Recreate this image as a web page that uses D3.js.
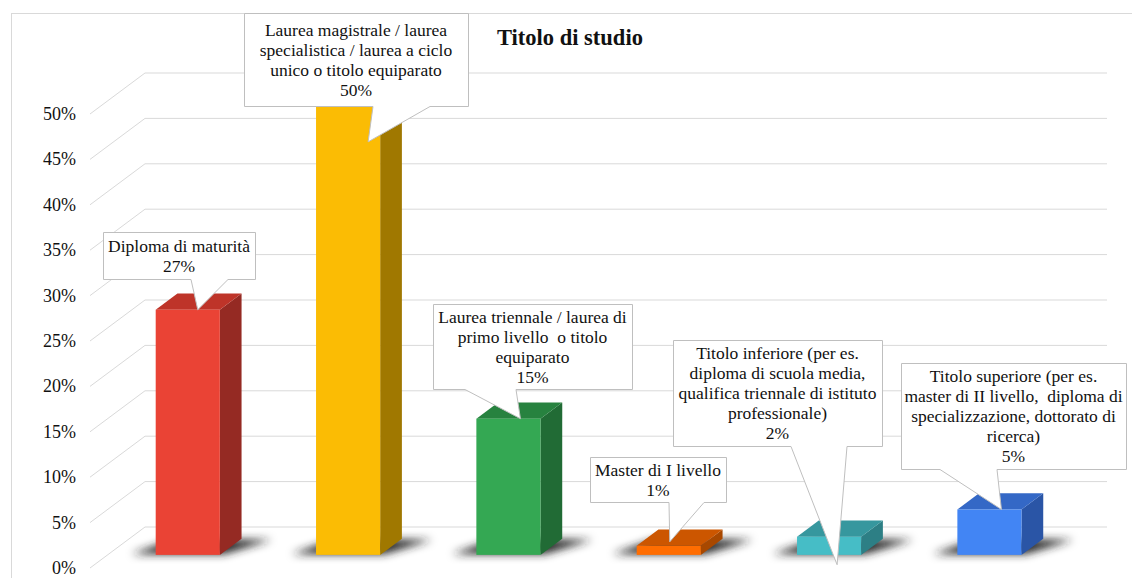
<!DOCTYPE html>
<html>
<head>
<meta charset="utf-8">
<script src="https://cdn.jsdelivr.net/npm/d3@7"></script>
<style>
  html, body { margin: 0; padding: 0; background: #fff; }
  svg { display: block; }
  text { font-family: "Liberation Serif", "Times New Roman", serif; fill: #111; white-space: pre; }
</style>
</head>
<body>
<svg id="chart" width="1132" height="578"></svg>
<script>
// ---- data ----
const categories = [
  "Diploma di maturità",
  "Laurea magistrale / laurea specialistica / laurea a ciclo unico o titolo equiparato",
  "Laurea triennale / laurea di primo livello  o titolo equiparato",
  "Master di I livello",
  "Titolo inferiore (per es. diploma di scuola media, qualifica triennale di istituto professionale)",
  "Titolo superiore (per es. master di II livello,  diploma di specializzazione, dottorato di ricerca)"
];
const values = [0.27, 0.50, 0.15, 0.01, 0.02, 0.05];
const labelLines = [
  ["Diploma di maturità"],
  ["Laurea magistrale / laurea", "specialistica / laurea a ciclo", "unico o titolo equiparato"],
  ["Laurea triennale / laurea di", "primo livello  o titolo", "equiparato"],
  ["Master di I livello"],
  ["Titolo inferiore (per es.", "diploma di scuola media,", "qualifica triennale di istituto", "professionale)"],
  ["Titolo superiore (per es.", "master di II livello,  diploma di", "specializzazione, dottorato di", "ricerca)"]
];
const yTicks = [0, 0.05, 0.10, 0.15, 0.20, 0.25, 0.30, 0.35, 0.40, 0.45, 0.50];
const chartTitle = "Titolo di studio";

// ---- styling ----
const frontColors = ["#EA4335", "#FBBC04", "#34A853", "#FF6D01", "#46BDC6", "#4285F4"];
const sideColors  = ["#952A23", "#A07800", "#216B35", "#A84800", "#2D7F85", "#2A55A6"];
const topColors   = ["#BE3429", "#CC9900", "#27823F", "#CC5600", "#36979E", "#3468C6"];

// callout boxes: [x, y, w, h, pointer base left, pointer base right, tip dx from band centre, tip dy from bar top]
const callouts = [
  [103, 232, 152, 47, 191, 228, 10, 0],
  [244, 13, 224, 93, 373, 430, 20, 41],
  [433, 304, 199, 85, 465, 516, 12, 0],
  [590, 457, 136, 45, 669, 704, 1, -4],
  [673, 340, 209, 106, 791, 847, 8, 28],
  [901, 363, 225, 106, 940, 997, 12, 0]
];

const svg = d3.select("#chart");
const W = 1132, H = 578;

// depth projection of the 3D floor: full depth shifts (55, -41)
const DX = 55, DY = -41;
const depth = d => [DX * d, DY * d];

const y = d3.scaleLinear().domain([0, 0.5]).range([568, 114]);
const x = d3.scaleBand().domain(categories).range([90, 1052])
  .paddingInner(0.6).paddingOuter(0.3);

const defs = svg.append("defs");
defs.append("filter").attr("id", "shadowBlur")
  .attr("x", "-50%").attr("y", "-100%").attr("width", "200%").attr("height", "300%")
  .append("feGaussianBlur").attr("stdDeviation", 4);

// chart frame
svg.append("rect")
  .attr("x", 11.5).attr("y", 13.5).attr("width", W + 20).attr("height", H)
  .attr("fill", "none").attr("stroke", "#d9d9d9");

// gridlines: diagonal on the side wall, horizontal on the back wall
const grid = svg.append("g").attr("stroke", "#d9d9d9").attr("fill", "none");
const [bdx, bdy] = depth(1);
yTicks.forEach(t => {
  const yf = y(t);
  grid.append("path")
    .attr("d", `M${x.range()[0]},${yf}L${x.range()[0] + bdx},${yf + bdy}H${x.range()[1] + bdx}`);
});

// y-axis labels
svg.append("g").selectAll("text").data(yTicks).join("text")
  .attr("x", 76).attr("y", d => y(d))
  .attr("text-anchor", "end").attr("dominant-baseline", "central")
  .style("font-size", "18px")
  .text(d => d3.format(".0%")(d));

// bars
const dFront = 0.32, dBack = 0.715;
const bars = categories.map((c, i) => {
  const [fx, fy] = depth(dFront);
  const [kx, ky] = depth(dBack);
  const x0 = x(c) + fx, x1 = x0 + x.bandwidth();
  const yb = y(0) + fy, yt = y(values[i]) + fy;
  const ox = kx - fx, oy = ky - fy;
  return { c, i, x0, x1, yb, yt, ox, oy };
});

// soft floor shadows
svg.append("g").attr("filter", "url(#shadowBlur)").selectAll("path").data(bars).join("path")
  .attr("d", b => `M${b.x0 - 24},${b.yb - 1}L${b.x1 + 4},${b.yb - 1}L${b.x1 + b.ox + 30},${b.yb + b.oy + 1}L${b.x0 + b.ox - 4},${b.yb + b.oy + 1}Z`)
  .attr("fill", "#222").attr("opacity", 1);

const barG = svg.append("g");
bars.forEach(b => {
  const g = barG.append("g");
  g.append("path")
    .attr("d", `M${b.x1},${b.yb}L${b.x1 + b.ox},${b.yb + b.oy}V${b.yt + b.oy}L${b.x1},${b.yt}Z`)
    .attr("fill", sideColors[b.i]);
  g.append("path")
    .attr("d", `M${b.x0},${b.yt}L${b.x1},${b.yt}L${b.x1 + b.ox},${b.yt + b.oy}L${b.x0 + b.ox},${b.yt + b.oy}Z`)
    .attr("fill", topColors[b.i]);
  g.append("rect")
    .attr("x", b.x0).attr("y", b.yt).attr("width", b.x1 - b.x0).attr("height", b.yb - b.yt)
    .attr("fill", frontColors[b.i]);
});

// data callouts
const fmt = d3.format(".0%");
const calloutG = svg.append("g");
bars.forEach(b => {
  const [bx, by, bw, bh, pl, pr, tdx, tdy] = callouts[b.i];
  const tipX = x(b.c) + depth(dFront)[0] + x.bandwidth() / 2 + tdx;
  const tipY = b.yt + tdy;
  const bottom = by + bh;
  calloutG.append("path")
    .attr("d", `M${bx + 0.5},${by + 0.5}H${bx + bw + 0.5}V${bottom + 0.5}H${pr}L${tipX},${tipY}L${pl},${bottom + 0.5}H${bx + 0.5}Z`)
    .attr("fill", "#fff").attr("stroke", "#bfbfbf").attr("stroke-width", 1);
  const lines = labelLines[b.i].concat([fmt(values[b.i])]);
  const lh = 20;
  const cy = by + bh / 2 - (lines.length - 1) * lh / 2;
  calloutG.append("text")
    .attr("text-anchor", "middle")
    .style("font-size", "17.5px")
    .selectAll("tspan").data(lines).join("tspan")
    .attr("x", bx + bw / 2)
    .attr("y", (d, k) => cy + k * lh)
    .attr("dominant-baseline", "central")
    .text(d => d);
});

// title
svg.append("text")
  .attr("x", 497).attr("y", 45)
  .style("font-size", "22.5px").style("font-weight", "bold")
  .text(chartTitle);
</script>
</body>
</html>
